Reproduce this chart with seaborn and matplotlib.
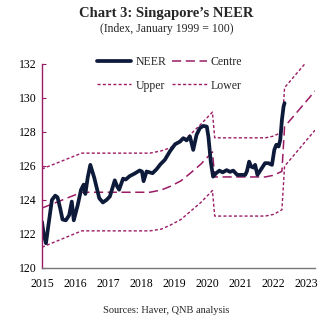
import numpy as np
import pandas as pd
import matplotlib
matplotlib.use("Agg")
import matplotlib.pyplot as plt
import seaborn as sns
from matplotlib.ticker import MultipleLocator

# ---------------- data ----------------
neer_dates = [2015.00, 2015.05, 2015.12, 2015.20, 2015.30, 2015.40, 2015.47, 2015.55, 2015.62,
              2015.72, 2015.82, 2015.90, 2015.96, 2016.08, 2016.18, 2016.26, 2016.31, 2016.38,
              2016.46, 2016.58, 2016.73, 2016.84, 2016.95, 2017.05, 2017.20, 2017.27, 2017.33,
              2017.45, 2017.53, 2017.65, 2017.80, 2017.95, 2018.02, 2018.07, 2018.16, 2018.34,
              2018.46, 2018.58, 2018.71, 2018.86, 2019.02, 2019.17, 2019.27, 2019.37, 2019.47,
              2019.57, 2019.67, 2019.77, 2019.87, 2019.98, 2020.03, 2020.10, 2020.17, 2020.26,
              2020.36, 2020.46, 2020.58, 2020.68, 2020.78, 2020.90, 2021.04, 2021.14, 2021.19,
              2021.26, 2021.32, 2021.39, 2021.44, 2021.51, 2021.64, 2021.74, 2021.84, 2021.95,
              2022.02, 2022.08, 2022.15, 2022.20, 2022.25, 2022.30, 2022.33]
neer_values = [122.7, 122.0, 121.45, 122.6, 124.0, 124.25, 124.15, 123.5, 122.85,
               122.8, 123.1, 123.9, 122.8, 123.7, 124.6, 124.9, 124.35, 125.3,
               126.06, 125.3, 124.1, 123.85, 124.0, 124.2, 125.15, 124.8, 124.6,
               125.25, 125.2, 125.4, 125.55, 125.73, 125.67, 125.1, 125.67, 125.57,
               125.8, 126.1, 126.35, 126.84, 127.27, 127.43, 127.63, 127.5, 127.73,
               126.94, 127.82, 128.22, 128.35, 128.31, 127.7, 126.25, 125.37, 125.57,
               125.72, 125.62, 125.75, 125.65, 125.72, 125.47, 125.47, 125.47, 125.67,
               126.25, 125.96, 125.9, 126.06, 125.47, 125.86, 126.16, 126.16, 126.06,
               126.94, 127.24, 127.14, 127.53, 128.7, 129.49, 129.69]

band_dates = [2015.00, 2016.20, 2018.26, 2018.60, 2018.86, 2019.20, 2019.47, 2019.80, 2020.15,
              2020.22, 2021.75, 2022.00, 2022.25, 2022.33, 2023.25]
centre_values = [123.52, 124.45, 124.45, 124.58, 124.78, 125.12, 125.55, 126.10, 126.82,
                 125.35, 125.35, 125.45, 125.68, 128.30, 130.40]
upper_values = [125.82, 126.75, 126.75, 126.88, 127.05, 127.42, 127.82, 128.45, 129.16,
                127.65, 127.65, 127.75, 128.00, 130.60, 132.70]
lower_values = [121.22, 122.18, 122.18, 122.28, 122.50, 122.85, 123.30, 123.85, 124.55,
                123.05, 123.05, 123.15, 123.42, 125.98, 128.10]

year_ticks = list(range(2015, 2024))
y_ticks = list(range(120, 133, 2))

# ---------------- style ----------------
sns.set_style("white")
plt.rcParams["font.family"] = ["Liberation Serif", "DejaVu Serif"]

NAVY = "#0e1a3a"
MAG = "#9b1b66"

fig = plt.figure(figsize=(3.36, 3.24), dpi=100)
ax = fig.add_axes([0.125, 0.173, 0.8125, 0.63])

neer_df = pd.DataFrame({"date": neer_dates, "value": neer_values})
band_df = pd.DataFrame({"date": band_dates, "centre": centre_values,
                        "upper": upper_values, "lower": lower_values})

sns.lineplot(data=band_df, x="date", y="upper", ax=ax, color=MAG, lw=1.0,
             linestyle=(0, (2.2, 1.6)), estimator=None, label="Upper")
sns.lineplot(data=band_df, x="date", y="lower", ax=ax, color=MAG, lw=1.0,
             linestyle=(0, (2.2, 1.6)), estimator=None, label="Lower")
sns.lineplot(data=band_df, x="date", y="centre", ax=ax, color=MAG, lw=1.1,
             linestyle=(0, (6, 3)), estimator=None, label="Centre")
sns.lineplot(data=neer_df, x="date", y="value", ax=ax, color=NAVY, lw=2.7,
             estimator=None, label="NEER", solid_joinstyle="round")

ax.set_xlim(2015, 2023.25)
ax.set_ylim(120, 132)
ax.set_xticks(year_ticks)
ax.set_xticklabels([str(y) for y in year_ticks])
ax.xaxis.set_minor_locator(MultipleLocator(0.25))
ax.set_yticks(y_ticks)
ax.set_yticklabels([str(v) for v in y_ticks])
ax.set_xlabel("")
ax.set_ylabel("")

for s in ["top", "right"]:
    ax.spines[s].set_visible(False)
ax.spines["left"].set_color(MAG)
ax.spines["left"].set_linewidth(1.0)
ax.spines["bottom"].set_color("#777777")
ax.spines["bottom"].set_linewidth(1.0)

ax.tick_params(axis="x", which="major", direction="inout", length=6, width=0.8,
               color="black", labelsize=8.5, pad=4, labelcolor="black")
ax.tick_params(axis="x", which="minor", direction="out", length=2.5, width=0.6,
               color="black")
ax.tick_params(axis="y", which="major", direction="in", length=3, width=0.8,
               color=MAG, labelsize=8.5, pad=4, left=True, labelcolor="black")

handles, labels = ax.get_legend_handles_labels()
hmap = dict(zip(labels, handles))
order = ["NEER", "Upper", "Centre", "Lower"]
ax.legend([hmap[k] for k in order], order, ncol=2, frameon=False,
          loc="upper left", bbox_to_anchor=(0.185, 1.06), fontsize=8.5,
          handlelength=2.9, handletextpad=0.35, columnspacing=0.5,
          labelspacing=0.95, borderaxespad=0.0)

fig.text(0.495, 0.958, "Chart 3: Singapore\u2019s NEER", ha="center", va="center",
         fontsize=10.5, fontweight="bold")
fig.text(0.495, 0.912, "(Index, January 1999 = 100)", ha="center", va="center",
         fontsize=8.5)
fig.text(0.495, 0.043, "Sources: Haver, QNB analysis", ha="center", va="center",
         fontsize=7.5)

fig.savefig("out.png", dpi=100)
